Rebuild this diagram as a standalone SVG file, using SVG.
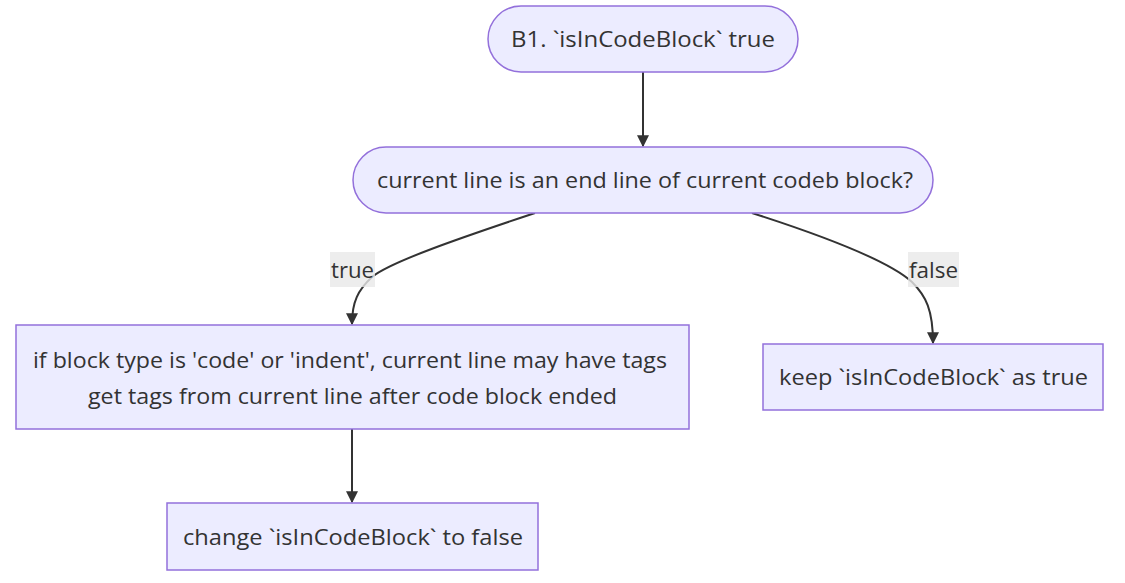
<svg xmlns="http://www.w3.org/2000/svg" width="1125" height="583" viewBox="0 0 1125 583">
<style>
.node{fill:#ECECFF;stroke:#9370DB;stroke-width:1.5}
.t{font-family:"Open Sans","DejaVu Sans",sans-serif;font-size:21px;fill:#333;text-anchor:middle;dominant-baseline:central}
.edge{fill:none;stroke:#333;stroke-width:2}
.lbl{fill:#e8e8e8;opacity:0.8}
</style>
<defs>
<marker id="arr" viewBox="0 0 10 10" refX="9" refY="5" markerWidth="12" markerHeight="12" markerUnits="userSpaceOnUse" orient="auto"><path d="M0,0 L10,5 L0,10 z" fill="#333"/></marker>
</defs>
<rect width="1125" height="583" fill="#fff"/>
<g id="connectors">
<path class="edge" d="M643,72 L643,146" marker-end="url(#arr)"/>
<path class="edge" d="M535,213 C460,238 390,262 372,277 C358,290 352,302 352,324" marker-end="url(#arr)"/>
<path class="edge" d="M752,213 C830,238 890,262 912,282 C926,296 933,310 933,343" marker-end="url(#arr)"/>
<path class="edge" d="M352,429 L352,502" marker-end="url(#arr)"/>
<g id="label-true"><rect class="lbl" x="330" y="252" width="45" height="35"/><text class="t" x="352.5" y="270" textLength="43" lengthAdjust="spacingAndGlyphs">true</text></g>
<g id="label-false"><rect class="lbl" x="908" y="252" width="51" height="35"/><text class="t" x="933.5" y="270" textLength="49" lengthAdjust="spacingAndGlyphs">false</text></g>
</g>
<g id="A"><rect class="node" x="488" y="6" width="310" height="66" rx="33" ry="33"/><text class="t" x="643" y="39" textLength="264" lengthAdjust="spacingAndGlyphs">B1. `isInCodeBlock` true</text></g>
<g id="B"><rect class="node" x="353" y="147" width="580" height="66" rx="33" ry="33"/><text class="t" x="645" y="180" textLength="536" lengthAdjust="spacingAndGlyphs">current line is an end line of current codeb block?</text></g>
<g id="C"><rect class="node" x="16" y="325" width="673" height="104"/><text class="t" x="350" y="360" textLength="634" lengthAdjust="spacingAndGlyphs">if block type is 'code' or 'indent', current line may have tags</text><text class="t" x="352.5" y="396" textLength="529" lengthAdjust="spacingAndGlyphs">get tags from current line after code block ended</text></g>
<g id="D"><rect class="node" x="763" y="344" width="340" height="66"/><text class="t" x="933.5" y="377" textLength="309" lengthAdjust="spacingAndGlyphs">keep `isInCodeBlock` as true</text></g>
<g id="E"><rect class="node" x="167" y="503" width="371" height="67"/><text class="t" x="353" y="537" textLength="340" lengthAdjust="spacingAndGlyphs">change `isInCodeBlock` to false</text></g>
</svg>
